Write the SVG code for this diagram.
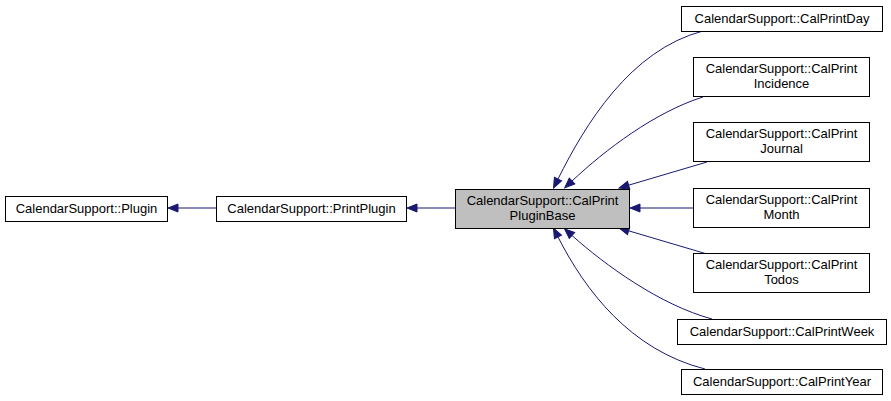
<svg xmlns="http://www.w3.org/2000/svg" width="891" height="401" viewBox="0 0 891 401">
<defs>
<marker id="ah" viewBox="-1 -1 12 10" refX="0" refY="4" markerWidth="12" markerHeight="10" markerUnits="userSpaceOnUse" orient="auto">
<path d="M0,0 L10,4 L0,8 z" fill="#191970" stroke="#191970" stroke-width="1"/>
</marker>
</defs>
<style>
.n rect{fill:#ffffff;stroke:#000000;stroke-width:1}
.n.cur rect{fill:#bfbfbf;stroke:#000000}
text{font-family:"Liberation Sans",Arial,Helvetica,sans-serif;font-size:13px;fill:#000000;text-anchor:middle}
.e path{fill:none;stroke:#191970;stroke-width:1;marker-end:url(#ah)}
</style>
<rect width="891" height="401" fill="#ffffff"/>
<g class="e" id="edges">
<path d="M216,208 L178,208"/>
<path d="M455,208 L417,208"/>
<path d="M693,208 L640,208"/>
<path d="M707,162 L628.6,185.2"/>
<path d="M707,254 L628.6,230.8"/>
<path d="M703,97 C655,112 605,150 572,181"/>
<path d="M703,31 C630,50 585,125 558,179"/>
<path d="M712,319 C660,305 605,265 572,235.5"/>
<path d="M705,369 C630,350 585,290 558,237"/>
</g>
<g class="n" id="node-plugin"><rect x="5.5" y="196.5" width="162" height="25"/><text x="86.5" y="213">CalendarSupport::Plugin</text></g>
<g class="n" id="node-printplugin"><rect x="216.5" y="196.5" width="190" height="25"/><text x="311.5" y="213">CalendarSupport::PrintPlugin</text></g>
<g class="n cur" id="node-base"><rect x="455.5" y="189.5" width="174" height="39"/><text x="542.5" y="205">CalendarSupport::CalPrint</text><text x="542.5" y="220">PluginBase</text></g>
<g class="n" id="node-day"><rect x="681.5" y="6.5" width="201" height="25"/><text x="782" y="23">CalendarSupport::CalPrintDay</text></g>
<g class="n" id="node-incidence"><rect x="693.5" y="57.5" width="176" height="39"/><text x="781.5" y="73">CalendarSupport::CalPrint</text><text x="781.5" y="88">Incidence</text></g>
<g class="n" id="node-journal"><rect x="693.5" y="122.5" width="176" height="39"/><text x="781.5" y="138">CalendarSupport::CalPrint</text><text x="781.5" y="153">Journal</text></g>
<g class="n" id="node-month"><rect x="693.5" y="188.5" width="176" height="39"/><text x="781.5" y="204">CalendarSupport::CalPrint</text><text x="781.5" y="219">Month</text></g>
<g class="n" id="node-todos"><rect x="693.5" y="253.5" width="176" height="39"/><text x="781.5" y="269">CalendarSupport::CalPrint</text><text x="781.5" y="284">Todos</text></g>
<g class="n" id="node-week"><rect x="677.5" y="319.5" width="209" height="25"/><text x="782" y="336">CalendarSupport::CalPrintWeek</text></g>
<g class="n" id="node-year"><rect x="681.5" y="369.5" width="201" height="25"/><text x="782" y="386">CalendarSupport::CalPrintYear</text></g>
</svg>
